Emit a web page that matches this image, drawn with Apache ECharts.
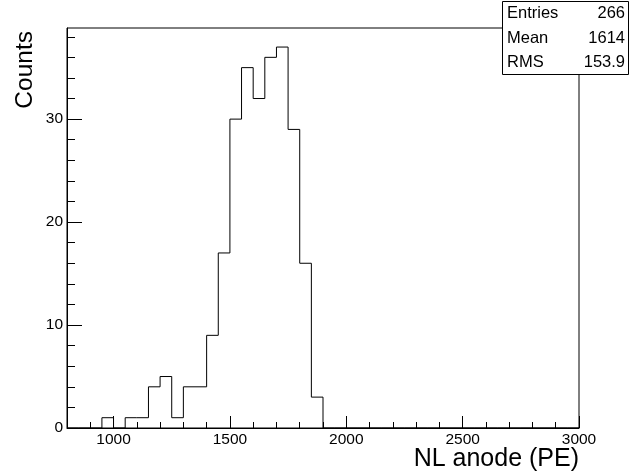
<!DOCTYPE html>
<html>
<head>
<meta charset="utf-8">
<script src="https://cdn.jsdelivr.net/npm/echarts@6/dist/echarts.min.js"></script>
<style>
  html, body { margin: 0; padding: 0; background: #fff; }
  #chart { width: 630px; height: 473px; }
</style>
</head>
<body>
<div id="chart"></div>
<script>
// Histogram binning: 44 bins of 50 PE from 800 to 3000
const binLow = 800;
const binWidth = 50;
const counts = [
  0, 0, 0, 1, 0, 1, 1, 4, 5, 1, 4, 4, 9, 17, 30, 35, 32, 36, 37, 29, 16, 3,
  0, 0, 0, 0, 0, 0, 0, 0, 0, 0, 0, 0, 0, 0, 0, 0, 0, 0, 0, 0, 0, 0
];

// Axis ticks and labels
const xMajorTicks = [1000, 1500, 2000, 2500, 3000];
const xMinorTicks = [900, 1000, 1100, 1200, 1300, 1400, 1500, 1600, 1700, 1800, 1900,
  2000, 2100, 2200, 2300, 2400, 2500, 2600, 2700, 2800, 2900];
const yMajorTicks = [0, 10, 20, 30];
const yMinorTicks = [2, 4, 6, 8, 12, 14, 16, 18, 22, 24, 26, 28, 32, 34, 36, 38];
const yMax = 38.85;

// Statistics box
const statNames = ['Entries', 'Mean', 'RMS'];
const statValues = ['266', '1614', '153.9'];

const FONT = '"Liberation Sans", Helvetica, Arial, sans-serif';

// Step outline points at the lower edge of each bin, closed at the upper range edge
const stepData = counts.map((c, i) => [binLow + i * binWidth, c]);
stepData.push([binLow + counts.length * binWidth, 0]);

const grid = { left: 67, right: 51, top: 28, bottom: 45 };

const chart = echarts.init(document.getElementById('chart'), null, { renderer: 'canvas' });

// Stats box: frame plus one row per statistic
const statsGraphic = [{
  type: 'rect', x: 0, y: 0, z: 100,
  shape: { x: 502.5, y: 1.5, width: 126, height: 73 },
  style: { fill: '#fff', stroke: '#000', lineWidth: 1 }
}];
statNames.forEach((name, i) => {
  const cy = 13.5 + i * 24.5;
  statsGraphic.push({
    type: 'text', x: 507, y: cy, z: 101,
    style: { text: name, font: '16.5px ' + FONT, fill: '#000', textAlign: 'left', textVerticalAlign: 'middle' }
  });
  statsGraphic.push({
    type: 'text', x: 625, y: cy, z: 101,
    style: { text: statValues[i], font: '16.5px ' + FONT, fill: '#000', textAlign: 'right', textVerticalAlign: 'middle' }
  });
});

const plainLabel = v => String(v);

chart.setOption({
  animation: false,
  backgroundColor: '#fff',
  grid: Object.assign({ show: true, borderColor: '#000', borderWidth: 1, containLabel: false }, grid),
  xAxis: [
    {
      type: 'value', min: 800, max: 3000, interval: 100,
      axisLine: { show: true, lineStyle: { color: '#000', width: 1 } },
      axisTick: { show: true, inside: true, length: 6, customValues: xMinorTicks, lineStyle: { color: '#000' } },
      axisLabel: { show: false },
      splitLine: { show: false },
      name: 'NL anode (PE)', nameLocation: 'end', nameGap: 0,
      nameTextStyle: {
        fontFamily: FONT, fontSize: 25, color: '#000',
        align: 'right', verticalAlign: 'top', padding: [19, 0, 0, 0]
      }
    },
    {
      type: 'value', min: 800, max: 3000, interval: 100, position: 'bottom',
      axisLine: { show: false },
      axisTick: { show: true, inside: true, length: 12, customValues: xMajorTicks, lineStyle: { color: '#000' } },
      axisLabel: {
        show: true, customValues: xMajorTicks, margin: 4, formatter: plainLabel,
        fontFamily: FONT, fontSize: 15.5, color: '#000'
      },
      splitLine: { show: false }
    }
  ],
  yAxis: [
    {
      type: 'value', min: 0, max: yMax, interval: 2,
      axisLine: { show: true, lineStyle: { color: '#000', width: 1 } },
      axisTick: { show: true, inside: true, length: 8, customValues: yMinorTicks, lineStyle: { color: '#000' } },
      axisLabel: { show: false },
      splitLine: { show: false },
      name: 'Counts', nameLocation: 'end', nameGap: -3, nameRotate: 90,
      nameTextStyle: {
        fontFamily: FONT, fontSize: 24.5, color: '#000',
        align: 'right', verticalAlign: 'bottom', padding: [0, 0, 29, 0]
      }
    },
    {
      type: 'value', min: 0, max: yMax, interval: 2, position: 'left',
      axisLine: { show: false },
      axisTick: { show: true, inside: true, length: 15, customValues: yMajorTicks, lineStyle: { color: '#000' } },
      axisLabel: {
        show: true, customValues: yMajorTicks, margin: 4, formatter: plainLabel,
        fontFamily: FONT, fontSize: 15.5, color: '#000'
      },
      splitLine: { show: false }
    }
  ],
  series: [
    {
      type: 'line', xAxisIndex: 0, yAxisIndex: 0,
      step: 'end', symbol: 'none', clip: false,
      data: stepData,
      lineStyle: { color: '#000', width: 1 }
    }
  ],
  graphic: statsGraphic
});
</script>
</body>
</html>
